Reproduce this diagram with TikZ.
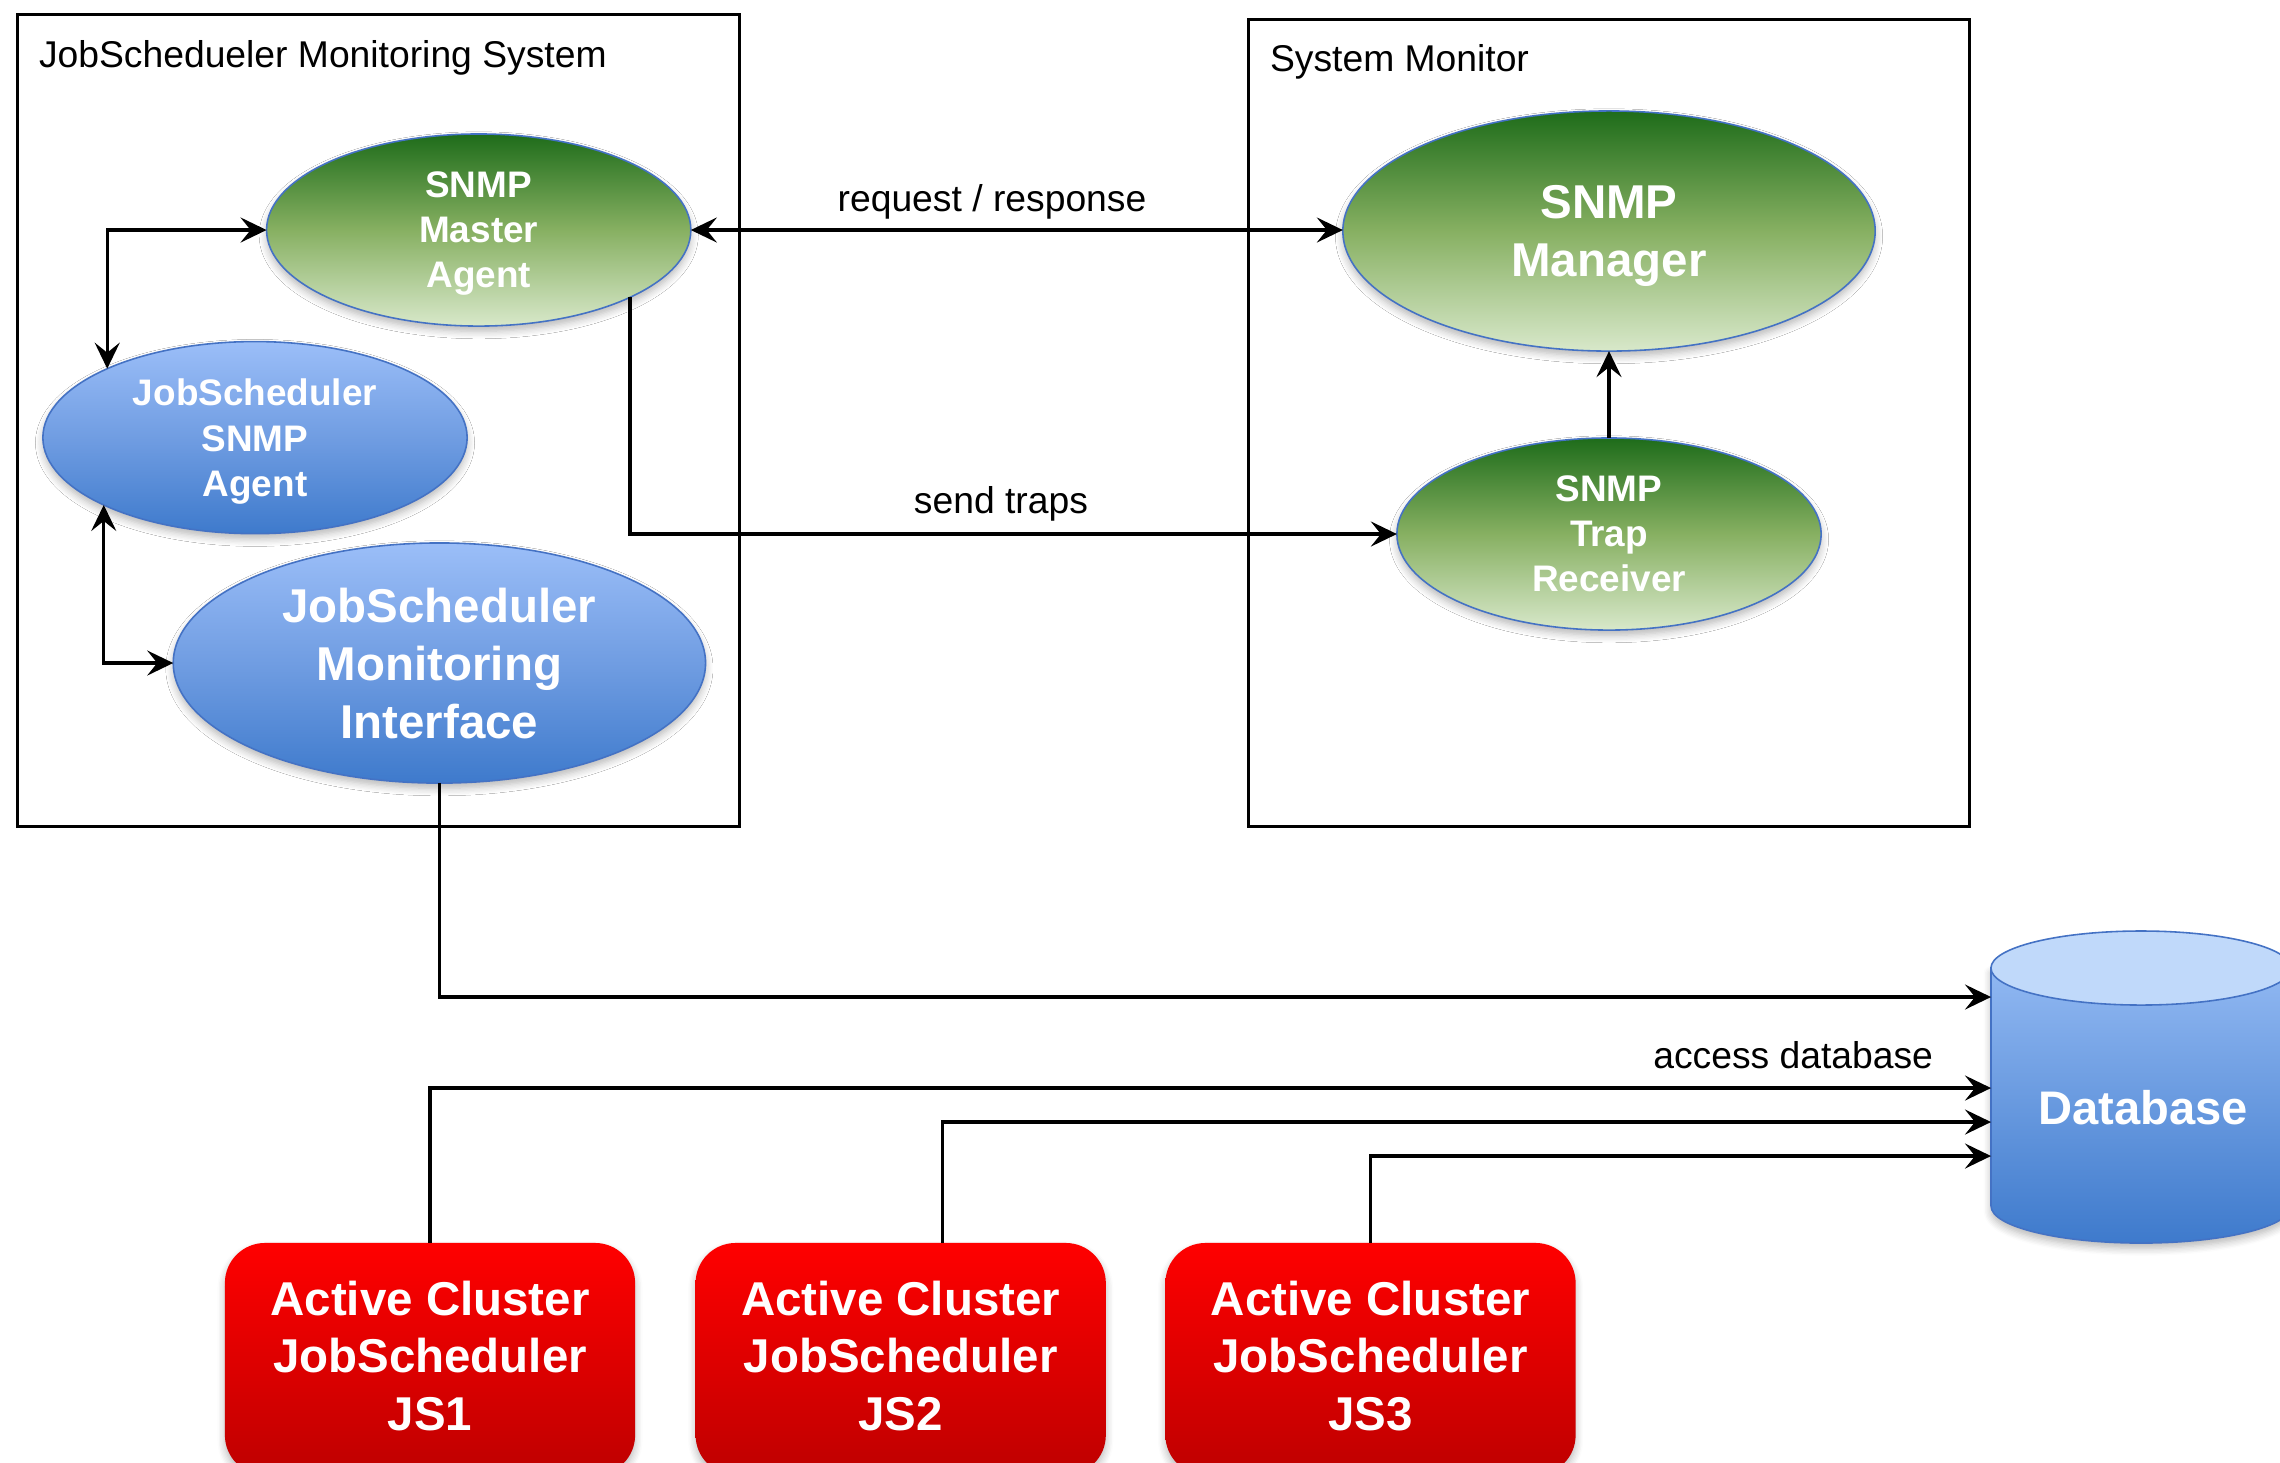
\documentclass[tikz,border=0pt]{standalone}
\usepackage{fontspec}
\setmainfont{Liberation Sans}
\usetikzlibrary{shapes.geometric,arrows.meta,calc,shadows.blur}

\definecolor{gtop}{RGB}{30,108,26}
\definecolor{gmid}{RGB}{135,176,98}
\definecolor{gbot}{RGB}{216,232,202}
\definecolor{btop}{RGB}{155,190,248}
\definecolor{bmid}{RGB}{112,157,226}
\definecolor{bbot}{RGB}{62,122,204}
\definecolor{rtop}{RGB}{255,0,0}
\definecolor{rbot}{RGB}{190,0,0}
\definecolor{edgeblue}{RGB}{68,114,196}
\definecolor{dbcap}{RGB}{192,217,250}
\definecolor{dbtopc}{RGB}{145,184,242}

\begin{document}
\begin{tikzpicture}[x=0.01cm,y=-0.01cm,
  every node/.style={inner sep=0pt, outer sep=0pt},
  >={Stealth[length=0.26cm,width=0.25cm,inset=0.1cm]},
  conn/.style={line width=0.9pt, draw=black},
  sysbox/.style={rectangle, draw=black, line width=0.9pt, fill=white},
  lbl/.style={font=\fontsize{10.6}{12.7}\selectfont, anchor=base},
  softshadow/.style={blur shadow={shadow xshift=0pt, shadow yshift=-1.5pt, shadow blur steps=6, shadow opacity=28}},
  ell/.style={ellipse, draw=edgeblue, line width=0.45pt, text=white, align=center, text depth=0pt, softshadow},
  ellS/.style={ell, minimum width=4.24cm, minimum height=1.92cm, font=\bfseries\fontsize{10.5}{12.8}\selectfont},
  ellL/.style={ell, minimum width=5.32cm, minimum height=2.40cm, font=\bfseries\fontsize{13.5}{16.5}\selectfont},
  greenfill/.style={top color=gtop, bottom color=gbot, middle color=gmid},
  bluefill/.style={top color=btop, bottom color=bbot, middle color=bmid},
  redbox/.style={rectangle, rounded corners=0.4cm, minimum width=4.1cm, minimum height=2.32cm,
    top color=rtop, bottom color=rbot, text=white, align=center, text depth=2pt,
    font=\bfseries\fontsize{13.5}{16.3}\selectfont, softshadow}
]
\useasboundingbox (0,0) rectangle (2280,1462);

% system boxes
\node[sysbox, minimum width=7.21cm, minimum height=8.11cm] (leftbox) at (378.5,420.5) {};
\node[sysbox, minimum width=7.20cm, minimum height=8.065cm] (rightbox) at (1609,422.75) {};
\node[lbl, anchor=base west] (t1) at (39,67) {JobSchedueler Monitoring System};
\node[lbl, anchor=base west] (t2) at (1270,71) {System Monitor};

% ellipses
\node[ellS, greenfill] (ma) at (478.7,230) {SNMP\\Master\\Agent};
\node[ellS, bluefill] (sa) at (255,437.6) {JobScheduler\\SNMP\\Agent};
\node[ellL, bluefill] (mi) at (439.4,663) {JobScheduler\\Monitoring\\Interface};
\node[ellL, greenfill] (mg) at (1609,231) {SNMP\\Manager};
\node[ellS, greenfill] (tr) at (1609,534) {SNMP\\Trap\\Receiver};

% database cylinder
\shade[top color=dbtopc, bottom color=bbot, draw=edgeblue, line width=0.45pt, softshadow]
  (1991,968) -- (1991,1206) arc[start angle=180, end angle=360, x radius=1.5cm, y radius=0.37cm]
  -- (2291,968) -- cycle;
\filldraw[fill=dbcap, draw=edgeblue, line width=0.45pt] (2141,968) ellipse [x radius=1.5cm, y radius=0.37cm];
\node[text=white, font=\bfseries\fontsize{13.4}{16}\selectfont] (db) at (2143,1108) {Database};
\coordinate (dbA) at (1991,997);
\coordinate (dbB) at (1991,1088);
\coordinate (dbC) at (1991,1122);
\coordinate (dbD) at (1991,1156);

% red boxes
\node[redbox] (js1) at (430,1359) {Active Cluster\\JobScheduler\\JS1};
\node[redbox] (js2) at (900.7,1359) {Active Cluster\\JobScheduler\\JS2};
\node[redbox] (js3) at (1370.5,1359) {Active Cluster\\JobScheduler\\JS3};

% connectors
\draw[conn, <->] (ma.west) -| (sa.155.5);
\draw[conn, <->] (sa.204.5) |- (mi.west);
\draw[conn, <->] (ma.east) -- (ma.east -| mg.west);
\draw[conn, ->] (ma.-24.2) |- (tr.west);
\draw[conn, ->] (tr.north) -- (mg.south);
\draw[conn, ->] (mi.south) |- (dbA);
\draw[conn, ->] (js1.north) |- (dbB);
\draw[conn, ->] ($(js2.north)+(42,0)$) |- (dbC);
\draw[conn, ->] (js3.north) |- (dbD);

% labels
\node[lbl] (l1) at (992,211.7) {request / response};
\node[lbl] (l2) at (1001,513) {send traps};
\node[lbl, anchor=base east] (l3) at (1933,1068) {access database};
\end{tikzpicture}
\end{document}
